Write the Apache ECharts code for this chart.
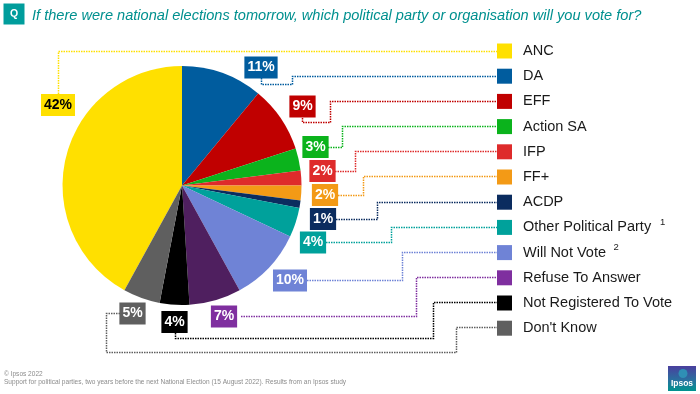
<!DOCTYPE html>
<html>
<head>
<meta charset="utf-8">
<style>
html, body { margin: 0; padding: 0; background: #fff; }
#chart { width: 700px; height: 394px; }
</style>
<script src="https://cdn.jsdelivr.net/npm/echarts@6/dist/echarts.min.js"></script>
</head>
<body>
<div id="chart"></div>
<script>
const parties = ['ANC', 'DA', 'EFF', 'Action SA', 'IFP', 'FF+', 'ACDP', 'Other Political Party', 'Will Not Vote', 'Refuse To Answer', 'Not Registered To Vote', "Don't Know"]
const shares = [42, 11, 9, 3, 2, 2, 1, 4, 10, 7, 4, 5]
const sliceColors = ['#ffe000', '#005c9e', '#c00000', '#0bb31c', '#de2b2b', '#f39a16', '#0b2c5f', '#00a19b', '#6f83d6', '#4f1f5f', '#000000', '#5f5f5f']
const keyColors = ['#ffe000', '#005c9e', '#c00000', '#0bb31c', '#de2b2b', '#f39a16', '#0b2c5f', '#00a19b', '#6f83d6', '#7f2f9f', '#000000', '#5f5f5f']

const questionText = 'If there were national elections tomorrow, which political party or organisation will you vote for?'
const footerLines = ['© Ipsos 2022', 'Support for political parties, two years before the next National Election (15 August 2022). Results from an Ipsos study']

// where the value boxes sit
const labelCentres = [[58, 105], [261, 67.5], [302.5, 106.5], [315.5, 147], [322.5, 171], [325, 195], [323, 219], [313, 242.5], [290, 280.5], [224, 316.5], [174.5, 322], [132.5, 313.5]]

// dotted leader lines, box -> legend swatch
const leaders = [
  [[58.5, 94], [58.5, 51.5], [498, 51.5]],
  [[261.5, 78], [261.5, 84.5], [292.5, 84.5], [292.5, 76.5], [498, 76.5]],
  [[302.5, 118], [302.5, 122.5], [330.5, 122.5], [330.5, 101.5], [498, 101.5]],
  [[328, 147.5], [342.5, 147.5], [342.5, 126.5], [498, 126.5]],
  [[335, 171.5], [355.5, 171.5], [355.5, 151.5], [498, 151.5]],
  [[338, 195.5], [363.5, 195.5], [363.5, 176.5], [498, 176.5]],
  [[336, 219.5], [377.5, 219.5], [377.5, 202.5], [498, 202.5]],
  [[326, 242.5], [391.5, 242.5], [391.5, 227.5], [498, 227.5]],
  [[307, 280.5], [402.5, 280.5], [402.5, 252.5], [498, 252.5]],
  [[241, 316.5], [416.5, 316.5], [416.5, 277.5], [498, 277.5]],
  [[175.5, 333], [175.5, 338.5], [433.5, 338.5], [433.5, 302.5], [498, 302.5]],
  [[120, 313.5], [106.5, 313.5], [106.5, 352.5], [456.5, 352.5], [456.5, 327.5], [498, 327.5]]
]

const font = '"Liberation Sans", Arial, sans-serif'
const myChart = echarts.init(document.getElementById('chart'), null, { renderer: 'canvas' })

const total = shares.reduce(function (a, b) { return a + b }, 0)

const graphics = [
  { type: 'rect', shape: { x: 3.5, y: 3.5, width: 21, height: 21 }, style: { fill: '#009d9c' } },
  { type: 'text', x: 14, y: 14.5, style: { text: 'Q', fill: '#fff', font: 'bold 10.5px ' + font, textAlign: 'center', textVerticalAlign: 'middle' } },
  { type: 'text', x: 32, y: 16, style: { text: questionText, fill: '#00908f', font: 'italic 14.58px ' + font, textVerticalAlign: 'middle' } },
  { type: 'text', x: 4, y: 374.5, style: { text: footerLines[0], fill: '#8c8c8c', font: '6.55px ' + font, textVerticalAlign: 'middle' } },
  { type: 'text', x: 4, y: 382.5, style: { text: footerLines[1], fill: '#8c8c8c', font: '6.55px ' + font, textVerticalAlign: 'middle' } },
  // footnote marks next to the legend
  { type: 'text', x: 660, y: 222, style: { text: '1', fill: '#1a1a1a', font: '9.5px ' + font, textVerticalAlign: 'middle' } },
  { type: 'text', x: 613.5, y: 247, style: { text: '2', fill: '#1a1a1a', font: '9.5px ' + font, textVerticalAlign: 'middle' } },
  {
    type: 'rect',
    shape: { x: 668, y: 366, width: 28, height: 25 },
    style: { fill: new echarts.graphic.LinearGradient(0, 0, 0, 1, [{ offset: 0, color: '#4a3f9e' }, { offset: 0.55, color: '#2a6f9f' }, { offset: 1, color: '#00938f' }]) }
  },
  { type: 'circle', shape: { cx: 683, cy: 373.5, r: 4.5 }, style: { fill: '#2f8fb5' } },
  { type: 'text', x: 682, y: 384, style: { text: 'Ipsos', fill: '#fff', font: 'bold 8.5px ' + font, textAlign: 'center', textVerticalAlign: 'middle' } }
]
leaders.forEach(function (pts, i) {
  graphics.push({
    type: 'polyline',
    shape: { points: pts },
    style: { fill: null, stroke: keyColors[i], lineWidth: 1.5, lineDash: [1.5, 1] }
  })
})

myChart.setOption({
  animation: false,
  backgroundColor: '#fff',
  legend: {
    orient: 'vertical',
    left: 497,
    top: 43.5,
    itemWidth: 15,
    itemHeight: 15,
    itemGap: 10.2,
    icon: 'rect',
    selectedMode: false,
    padding: 0,
    data: parties.map(function (name, i) {
      return { name: name, itemStyle: { color: keyColors[i] } }
    }),
    textStyle: {
      fontFamily: font,
      fontSize: 14.5,
      color: '#1a1a1a',
      padding: [0, 0, 0, 6]
    }
  },
  graphic: graphics,
  series: [{
    type: 'pie',
    silent: true,
    center: [182, 185.5],
    radius: [0, 119.5],
    // ANC runs up to twelve o'clock, DA starts there
    startAngle: 90 + shares[0] / total * 360,
    clockwise: true,
    z: 5,
    data: parties.map(function (name, i) {
      return {
        name: name,
        value: shares[i],
        itemStyle: { color: sliceColors[i] },
        label: { backgroundColor: keyColors[i], color: i === 0 ? '#000' : '#fff' }
      }
    }),
    label: {
      show: true,
      position: 'inside',
      formatter: '{c}%',
      fontFamily: font,
      fontSize: 14,
      fontWeight: 'bold',
      padding: [4, 3, 4, 3]
    },
    labelLine: { show: false },
    labelLayout: function (params) {
      const c = labelCentres[params.dataIndex]
      return { x: c[0], y: c[1], align: 'center', verticalAlign: 'middle' }
    }
  }]
})
</script>
</body>
</html>
